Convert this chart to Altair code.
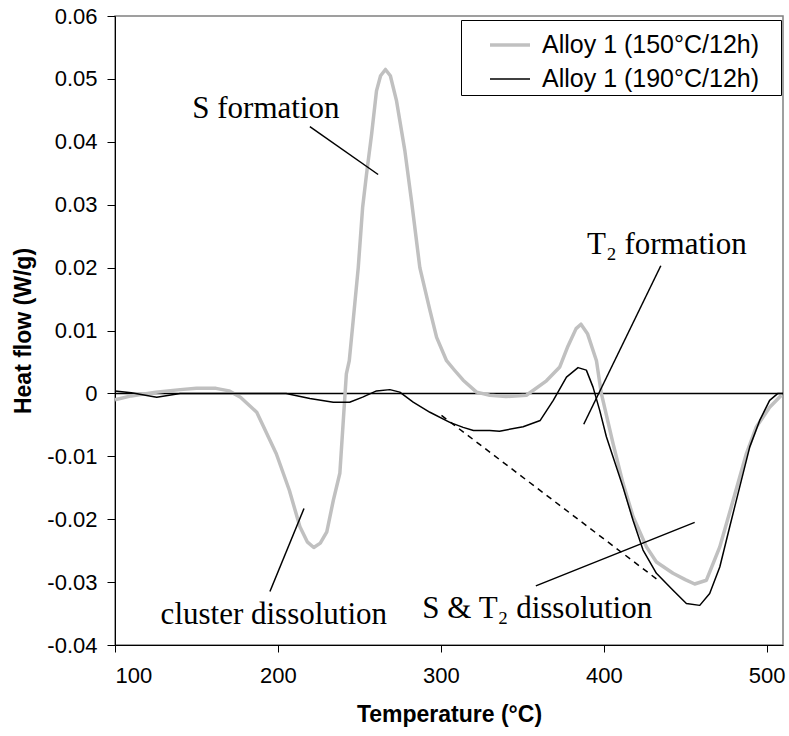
import altair as alt
import pandas as pd

# ---- data ----
gray_T = [100, 110, 125, 140, 150, 162, 170, 177, 187, 199, 207, 213.5, 218, 222, 226, 230, 234, 238, 240,
          242, 243.8, 246.2, 249.3, 252, 254.4, 257.5, 260.5, 263, 266, 269, 272.8, 277.9, 282, 287.1, 293.3,
          297.4, 303.5, 308, 313.7, 321.9, 330, 340, 352.5, 364.8, 373, 378, 383, 386, 390, 395.5, 398.5,
          405.7, 411.8, 418, 426.2, 432.3, 442.5, 450, 455.8, 463, 471.2, 479.4, 487.5, 493.7, 501.8, 509]
gray_Q = [-0.0010, -0.0004, 0.0002, 0.0006, 0.0008, 0.0008, 0.0004, -0.0006, -0.0030, -0.0096, -0.0154,
          -0.0212, -0.0236, -0.0245, -0.0238, -0.0220, -0.0170, -0.0127, -0.0048,
          0.0031, 0.0052, 0.0116, 0.0200, 0.0296, 0.0349, 0.0412, 0.0481, 0.0505, 0.0515, 0.0505, 0.0465,
          0.0386, 0.0306, 0.0200, 0.0132, 0.0089, 0.0052, 0.0038, 0.0021, 0.0002, -0.0003, -0.0005, -0.0003,
          0.0020, 0.0042, 0.0075, 0.0103, 0.0110, 0.0095, 0.0052, 0.0000, -0.0080, -0.0143, -0.0196,
          -0.0244, -0.0268, -0.0286, -0.0296, -0.0303, -0.0297, -0.0244, -0.0170, -0.0096, -0.0053,
          -0.0022, -0.0003]

black_T = [100, 110, 125.6, 140, 160, 180, 205, 219.6, 234, 244, 252, 260.5, 268.7, 274.8, 283, 293.3,
           305.5, 313.7, 320, 330, 336, 350.5, 361, 369, 377.1, 384.2, 389.3, 393.4, 397.5, 401.6, 405.7,
           411.8, 418, 424.1, 432.3, 442.5, 450.7, 458.9, 465, 471.2, 477.3, 483.4, 489.6, 495.7, 501.8,
           506.9, 510]
black_Q = [0.0004, 0.0001, -0.0006, 0.0000, 0.0000, 0.0000, 0.0000, -0.0008, -0.0014, -0.0014, -0.0006,
           0.0004, 0.0006, 0.0002, -0.0014, -0.0030, -0.0046, -0.0054, -0.0059, -0.0059, -0.0060, -0.0053,
           -0.0043, -0.0011, 0.0026, 0.0041, 0.0037, 0.0010, -0.0027, -0.0069, -0.0101, -0.0149, -0.0202,
           -0.0249, -0.0286, -0.0313, -0.0334, -0.0337, -0.0318, -0.0276, -0.0212, -0.0149, -0.0085,
           -0.0043, -0.0011, 0.0000, 0.0000]

series_names = ["Alloy 1 (150°C/12h)", "Alloy 1 (190°C/12h)"]

# annotation pointer segments (data coordinates)
ptr_x1 = [219.6, 195.1, 387.7, 358.3]
ptr_y1 = [0.0424, -0.0315, -0.0049, -0.0306]
ptr_x2 = [261.5, 216.0, 435.0, 455.8]
ptr_y2 = [0.0348, -0.0183, 0.0203, -0.0205]

# dashed baseline
dash_x1 = [300.4]
dash_y1 = [-0.0035]
dash_x2 = [434.4]
dash_y2 = [-0.0299]

labels = ["S formation", "cluster dissolution", "S & T\u2082 dissolution", "T\u2082 formation"]
label_x = [192.6, 197.5, 359.2, 438.7]
label_y = [0.0438, -0.0367, -0.0357, 0.0222]

x_ticks = [100, 200, 300, 400, 500]
y_ticks = [-0.04, -0.03, -0.02, -0.01, 0.0, 0.01, 0.02, 0.03, 0.04, 0.05, 0.06]

# ---- tables ----
curves = pd.concat([
    pd.DataFrame({"T": gray_T, "Q": gray_Q, "series": series_names[0]}),
    pd.DataFrame({"T": black_T, "Q": black_Q, "series": series_names[1]}),
])
ptrs = pd.DataFrame({"x": ptr_x1, "y": ptr_y1, "x2": ptr_x2, "y2": ptr_y2})
dash = pd.DataFrame({"x": dash_x1, "y": dash_y1, "x2": dash_x2, "y2": dash_y2})
texts = pd.DataFrame({"x": label_x, "y": label_y, "text": labels})
zero = pd.DataFrame({"y": [0.0]})

xscale = alt.Scale(domain=[100, 510], nice=False, zero=False)
yscale = alt.Scale(domain=[-0.04, 0.06], nice=False)

xaxis = alt.Axis(values=x_ticks, title="Temperature (°C)", grid=False, domainColor="black",
                 tickColor="black", tickSize=7, labelFontSize=22, labelPadding=13,
                 labelColor="black", titleFontSize=23, titleFontWeight="bold", titlePadding=17,
                 titleColor="black", labelFont="Liberation Sans", titleFont="Liberation Sans")
yaxis = alt.Axis(values=y_ticks, title="Heat flow (W/g)", grid=False, domainColor="black",
                 tickColor="black", tickSize=8, labelFontSize=22, labelPadding=10,
                 labelColor="black", titleFontSize=23, titleFontWeight="bold", titlePadding=11,
                 titleColor="black", labelFont="Liberation Sans", titleFont="Liberation Sans",
                 labelExpr="(datum.value < -0.001 ? '-' : '') + format(abs(datum.value), '.2~f')")

# trailing blank (non-whitespace) glyph widens the legend box to the frame like the original
leg_expr = "datum.label + '\u2800'"

zero_rule = alt.Chart(zero).mark_rule(color="black", strokeWidth=1.5).encode(
    y=alt.Y("y:Q", scale=yscale, axis=yaxis)
)

lines = alt.Chart(curves).mark_line(strokeJoin="round").encode(
    x=alt.X("T:Q", scale=xscale, axis=xaxis),
    y=alt.Y("Q:Q", scale=yscale, axis=yaxis),
    color=alt.Color("series:N", scale=alt.Scale(domain=series_names, range=["#c0c0c0", "#000000"]),
                    legend=alt.Legend(title=None, labelExpr=leg_expr)),
    strokeWidth=alt.StrokeWidth("series:N", scale=alt.Scale(domain=series_names, range=[3.5, 1.5]),
                                legend=alt.Legend(title=None, labelExpr=leg_expr)),
    order=alt.Order("T:Q"),
)

ptr_layer = alt.Chart(ptrs).mark_rule(color="black", strokeWidth=1.5).encode(
    x=alt.X("x:Q", scale=xscale), y=alt.Y("y:Q", scale=yscale), x2="x2:Q", y2="y2:Q"
)
dash_layer = alt.Chart(dash).mark_rule(color="black", strokeWidth=1.5, strokeDash=[6, 5]).encode(
    x=alt.X("x:Q", scale=xscale), y=alt.Y("y:Q", scale=yscale), x2="x2:Q", y2="y2:Q"
)
text_layer = alt.Chart(texts).mark_text(font="Liberation Serif", fontSize=31, color="black",
                                        align="center", baseline="alphabetic").encode(
    x=alt.X("x:Q", scale=xscale), y=alt.Y("y:Q", scale=yscale), text="text:N"
)

chart = alt.layer(zero_rule, lines, dash_layer, ptr_layer, text_layer).properties(
    width=668, height=629,
    padding={"left": 115, "top": 16, "right": 6, "bottom": 91},
    autosize=alt.AutoSizeParams(type="none"),
    background="white",
).configure_view(
    stroke="#808080", strokeWidth=1.5
).configure_legend(
    orient="none", legendX=346, legendY=4, fillColor="white", strokeColor="black",
    padding=3, symbolType="stroke", symbolSize=1600, symbolOffset=24,
    labelFontSize=25, labelFont="Liberation Sans", labelColor="black", labelOffset=10,
    rowPadding=0, labelLimit=400,
)

chart.save("out.html", embed_options={"renderer": "svg", "actions": False})
